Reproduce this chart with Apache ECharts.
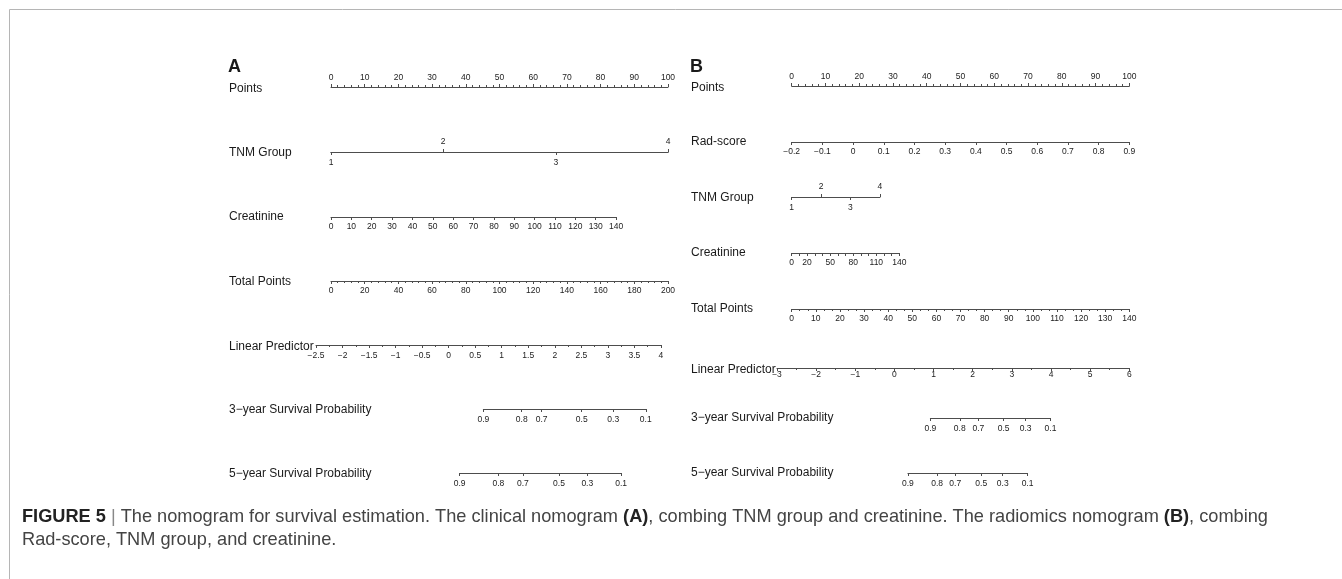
<!DOCTYPE html>
<html><head><meta charset="utf-8">
<script src="https://cdn.jsdelivr.net/npm/echarts@6/dist/echarts.min.js"></script>
<style>html,body{margin:0;padding:0;background:#fff}#c{width:1342px;height:579px}</style>
</head><body><div id="c"></div>
<script>
// ================= DATA =================
// ---- Panel A: clinical nomogram ----
const pointsLabels = [0, 10, 20, 30, 40, 50, 60, 70, 80, 90, 100];
const tnmLevels = [1, 2, 3, 4];
const tnmPointsA = [0, 33.3, 66.7, 100];               // points of TNM group 1..4
const creatinineLabelsA = [0, 10, 20, 30, 40, 50, 60, 70, 80, 90, 100, 110, 120, 130, 140];
const creatininePointsA = [0, 84.6];                   // points at creatinine 0 and 140
const totalPointsLabelsA = [0, 20, 40, 60, 80, 100, 120, 140, 160, 180, 200];
const linearPredictorLabelsA = [-2.5, -2, -1.5, -1, -0.5, 0, 0.5, 1, 1.5, 2, 2.5, 3, 3.5, 4];
const linearPredictorTotalPointsA = [-8.9, 195.8];     // total points at LP -2.5 and 4
const survivalLabels = [0.9, 0.8, 0.7, 0.5, 0.3, 0.1];
const surv3TotalPointsA = [90.4, 113.2, 125.0, 148.8, 167.5, 186.8];
const surv5TotalPointsA = [76.3, 99.3, 113.9, 135.3, 152.1, 172.2];

// ---- Panel B: radiomics nomogram ----
const radScoreLabelsB = [-0.2, -0.1, 0, 0.1, 0.2, 0.3, 0.4, 0.5, 0.6, 0.7, 0.8, 0.9];
const radScorePointsB = [0, 100];                      // points at Rad-score -0.2 and 0.9
const tnmPointsB = [0, 8.7, 17.4, 26.1];
const creatinineTicksB = [0, 10, 20, 30, 40, 50, 60, 70, 80, 90, 100, 110, 120, 130, 140];
const creatinineLabelsB = [0, 20, 50, 80, 110, 140];
const creatininePointsB = [0, 31.9];
const totalPointsLabelsB = [0, 10, 20, 30, 40, 50, 60, 70, 80, 90, 100, 110, 120, 130, 140];
const linearPredictorLabelsB = [-3, -2, -1, 0, 1, 2, 3, 4, 5, 6];
const linearPredictorTotalPointsB = [-6.1, 140];
const surv3TotalPointsB = [57.5, 69.7, 77.4, 87.9, 97.0, 107.3];
const surv5TotalPointsB = [48.2, 60.3, 67.8, 78.6, 87.5, 97.8];

const rowNamesA = ['Points', 'TNM Group', 'Creatinine', 'Total Points', 'Linear Predictor',
  '3\u2212year Survival Probability', '5\u2212year Survival Probability'];
const rowNamesB = ['Points', 'Rad-score', 'TNM Group', 'Creatinine', 'Total Points', 'Linear Predictor',
  '3\u2212year Survival Probability', '5\u2212year Survival Probability'];

const captionLine1 = '{b|FIGURE 5} {s||} The nomogram for survival estimation. The clinical nomogram {b|(A)}, combing TNM group and creatinine. The radiomics nomogram {b|(B)}, combing';
const captionLine2 = 'Rad-score, TNM group, and creatinine.';

// ================= LAYOUT =================
const FONT = '"Liberation Sans", Arial, Helvetica, sans-serif';
const LINE = '#4d4d4d';
const TICK_FONT = 8.5;
const CAP_FONT = 18.2;
const panelA = { letter: 'A', x0: 331, x1: 668, labelX: 229, letterY: 67,
  tpMax: totalPointsLabelsA[totalPointsLabelsA.length - 1],
  rowY: [87, 152, 217, 281, 345, 409, 473], textY: [89, 153, 217, 282, 347, 410, 474] };
const panelB = { letter: 'B', x0: 791.7, x1: 1129.3, labelX: 691, letterY: 67,
  tpMax: totalPointsLabelsB[totalPointsLabelsB.length - 1],
  rowY: [86, 142, 197, 253, 309, 368, 418, 473], textY: [88, 142, 198, 253, 309, 370, 418, 473] };

const grids = [], xAxes = [], yAxes = [], graphics = [];

function pxPoints(pn, p) { return pn.x0 + p * (pn.x1 - pn.x0) / 100; }
function pxTotal(pn, t) { return pn.x0 + t * (pn.x1 - pn.x0) / pn.tpMax; }
function fmtNum(v) { return String(+(+v).toFixed(3)).replace('-', '\u2212'); }
function step(arr) { return +(arr[1] - arr[0]).toFixed(6); }
function last(arr) { return arr[arr.length - 1]; }
function nearestIndex(arr, v) {
  let bi = 0, bd = Infinity;
  arr.forEach((a, i) => { const d = Math.abs(a - v); if (d < bd) { bd = d; bi = i; } });
  return bi;
}

function makeGrid(xa, xb, top) {
  grids.push({ left: xa, width: xb - xa, top: top, height: 0, containLabel: false, outerBoundsMode: 'none' });
  yAxes.push({ gridIndex: grids.length - 1, type: 'value', show: false, min: 0, max: 1 });
  return grids.length - 1;
}

function addAxis(gi, o) {
  xAxes.push({
    gridIndex: gi, type: 'value', position: o.position || 'bottom',
    min: o.min, max: o.max, interval: o.interval,
    axisLine: { show: true, onZero: false, lineStyle: { color: LINE, width: 1 } },
    axisTick: { show: true, inside: false, length: 3, customValues: o.ticks,
      lineStyle: { color: LINE, width: 1 } },
    minorTick: { show: !!o.minor, splitNumber: o.minor || 5, length: 2,
      lineStyle: { color: LINE, width: 1 } },
    splitLine: { show: false }, minorSplitLine: { show: false },
    axisLabel: { show: true, margin: o.margin == null ? 5 : o.margin, fontSize: TICK_FONT, fontFamily: FONT,
      color: '#222', customValues: o.labels, formatter: o.formatter || fmtNum,
      showMinLabel: true, showMaxLabel: true, hideOverlap: false }
  });
}

function pointsRow(pn, y) {
  const g = makeGrid(pxPoints(pn, 0), pxPoints(pn, last(pointsLabels)), y);
  addAxis(g, { position: 'top', min: pointsLabels[0], max: last(pointsLabels), interval: step(pointsLabels), minor: 5 });
}
function tnmRow(pn, y, pts) {
  const g = makeGrid(pxPoints(pn, pts[0]), pxPoints(pn, last(pts)), y);
  const even = pts.filter((_, i) => i % 2 === 0), odd = pts.filter((_, i) => i % 2 === 1);
  const f = v => String(tnmLevels[nearestIndex(pts, v)]);
  addAxis(g, { position: 'bottom', min: pts[0], max: last(pts), ticks: even, labels: even, formatter: f, margin: 6 });
  addAxis(g, { position: 'top', min: pts[0], max: last(pts), ticks: odd, labels: odd, formatter: f, margin: 6 });
}
function linearVarRow(pn, y, ticks, pts, labels) {
  const g = makeGrid(pxPoints(pn, pts[0]), pxPoints(pn, pts[1]), y);
  addAxis(g, { min: ticks[0], max: last(ticks), interval: step(ticks), labels: labels });
}
function totalRow(pn, y, labels, minor) {
  const g = makeGrid(pxTotal(pn, labels[0]), pxTotal(pn, last(labels)), y);
  addAxis(g, { min: labels[0], max: last(labels), interval: step(labels), minor: minor });
}
function lpRow(pn, y, labels, tp, margin) {
  const g = makeGrid(pxTotal(pn, tp[0]), pxTotal(pn, tp[1]), y);
  addAxis(g, { min: labels[0], max: last(labels), interval: step(labels), minor: 2, margin: margin });
}
function survRow(pn, y, tp) {
  const g = makeGrid(pxTotal(pn, tp[0]), pxTotal(pn, last(tp)), y);
  addAxis(g, { min: tp[0], max: last(tp), ticks: tp, labels: tp, margin: 6,
    formatter: v => String(survivalLabels[nearestIndex(tp, v)]) });
}

// Panel A
pointsRow(panelA, panelA.rowY[0]);
tnmRow(panelA, panelA.rowY[1], tnmPointsA);
linearVarRow(panelA, panelA.rowY[2], creatinineLabelsA, creatininePointsA);
totalRow(panelA, panelA.rowY[3], totalPointsLabelsA, 5);
lpRow(panelA, panelA.rowY[4], linearPredictorLabelsA, linearPredictorTotalPointsA, 6);
survRow(panelA, panelA.rowY[5], surv3TotalPointsA);
survRow(panelA, panelA.rowY[6], surv5TotalPointsA);

// Panel B
pointsRow(panelB, panelB.rowY[0]);
linearVarRow(panelB, panelB.rowY[1], radScoreLabelsB, radScorePointsB);
tnmRow(panelB, panelB.rowY[2], tnmPointsB);
linearVarRow(panelB, panelB.rowY[3], creatinineTicksB, creatininePointsB, creatinineLabelsB);
totalRow(panelB, panelB.rowY[4], totalPointsLabelsB, 3);
lpRow(panelB, panelB.rowY[5], linearPredictorLabelsB, linearPredictorTotalPointsB, 2);
survRow(panelB, panelB.rowY[6], surv3TotalPointsB);
survRow(panelB, panelB.rowY[7], surv5TotalPointsB);

function addText(x, y, text, size, weight) {
  graphics.push({ type: 'text', x: x, y: y, silent: true,
    style: { text: text, fontSize: size, fontWeight: weight || 'normal', fontFamily: FONT,
      fill: '#1a1a1a', align: 'left', verticalAlign: 'middle' } });
}
[[panelA, rowNamesA], [panelB, rowNamesB]].forEach(([pn, names]) => {
  addText(pn.labelX - 1, pn.letterY, pn.letter, 18, 'bold');
  names.forEach((n, i) => addText(pn.labelX, pn.textY[i], n, 12));
});

// frame
graphics.push({ type: 'line', silent: true, shape: { x1: 9.5, y1: 9.5, x2: 1342, y2: 9.5 }, style: { stroke: '#b5b5b5', lineWidth: 1 } });
graphics.push({ type: 'line', silent: true, shape: { x1: 9.5, y1: 9.5, x2: 9.5, y2: 579 }, style: { stroke: '#b5b5b5', lineWidth: 1 } });

// caption
graphics.push({ type: 'text', x: 22, y: 517, silent: true,
  style: { text: captionLine1, fontSize: CAP_FONT, fontFamily: FONT, fill: '#444', verticalAlign: 'middle',
    rich: { b: { fontWeight: 'bold', fontSize: CAP_FONT, fontFamily: FONT, fill: '#222' },
            s: { fontSize: CAP_FONT, fontFamily: FONT, fill: '#888' } } } });
graphics.push({ type: 'text', x: 22, y: 540, silent: true,
  style: { text: captionLine2, fontSize: CAP_FONT, fontFamily: FONT, fill: '#444', verticalAlign: 'middle' } });

const chart = echarts.init(document.getElementById('c'), null, { renderer: 'canvas' });
chart.setOption({
  animation: false,
  backgroundColor: '#fff',
  grid: grids, xAxis: xAxes, yAxis: yAxes,
  graphic: graphics,
  series: []
});
</script></body></html>
